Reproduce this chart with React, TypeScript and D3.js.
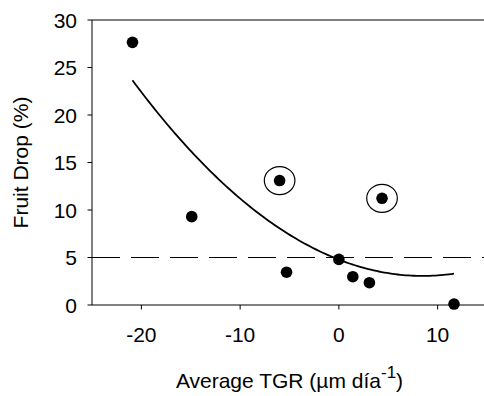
import React from "react";
import * as d3 from "d3";

// Data
const xValues = [-20.9, -14.9, -6.0, -5.3, 0, 1.41, 3.09, 4.37, 11.66];
const yValues = [27.65, 9.3, 13.1, 3.45, 4.8, 2.98, 2.35, 11.23, 0.1];
const circled = [false, false, true, false, false, false, false, true, false];
const xTicks = [-20, -10, 0, 10];
const yTicks = [0, 5, 10, 15, 20, 25, 30];
const xDomain = [-25, 15];
const yDomain = [0, 30];
const thresholdValue = 5;

// least-squares quadratic fit
function quadFit(xs: number[], ys: number[]) {
  const n = xs.length;
  let s1 = 0, s2 = 0, s3 = 0, s4 = 0, t0 = 0, t1 = 0, t2 = 0;
  for (let i = 0; i < n; i++) {
    const x = xs[i], y = ys[i];
    s1 += x; s2 += x * x; s3 += x * x * x; s4 += x * x * x * x;
    t0 += y; t1 += x * y; t2 += x * x * y;
  }
  const M = [
    [n, s1, s2, t0],
    [s1, s2, s3, t1],
    [s2, s3, s4, t2],
  ];
  for (let i = 0; i < 3; i++) {
    for (let j = i + 1; j < 3; j++) {
      const f = M[j][i] / M[i][i];
      for (let k = i; k < 4; k++) M[j][k] -= f * M[i][k];
    }
  }
  const sol = [0, 0, 0];
  for (let i = 2; i >= 0; i--) {
    let s = M[i][3];
    for (let k = i + 1; k < 3; k++) s -= M[i][k] * sol[k];
    sol[i] = s / M[i][i];
  }
  return (x: number) => sol[0] + sol[1] * x + sol[2] * x * x;
}

export default function App() {
  const W = 484, H = 396;
  const left = 92, right = 487, top = 20, bottom = 305;
  const x = d3.scaleLinear().domain(xDomain).range([left, right]);
  const y = d3.scaleLinear().domain(yDomain).range([bottom, top]);
  const font = "'Liberation Sans', Arial, sans-serif";
  const fit = quadFit(xValues, yValues);
  const [xmin, xmax] = d3.extent(xValues) as [number, number];
  const samples = d3.range(0, 121).map((i) => xmin + ((xmax - xmin) * i) / 120);
  const line = d3
    .line<number>()
    .x((d) => x(d))
    .y((d) => y(fit(d)))
    .curve(d3.curveLinear);

  return (
    <svg
      width={W}
      height={H}
      style={{ position: "absolute", left: 0, top: 0, background: "#fff" }}
      fontFamily={font}
    >
      <rect x={0} y={0} width={W} height={H} fill="#fff" />
      {/* frame */}
      <line x1={left} x2={right} y1={top} y2={top} stroke="#000" strokeWidth={1} />
      <line x1={left} x2={right} y1={bottom} y2={bottom} stroke="#000" strokeWidth={1} />
      <line x1={left} x2={left} y1={top} y2={bottom} stroke="#000" strokeWidth={1} />
      <line x1={right} x2={right} y1={top} y2={bottom} stroke="#000" strokeWidth={1} />
      {/* y ticks */}
      {yTicks.map((t) => (
        <g key={"y" + t}>
          <line x1={left - 4.5} x2={left} y1={y(t)} y2={y(t)} stroke="#000" strokeWidth={1} />
          <text x={77} y={y(t)} dy="0.36em" textAnchor="end" fontSize={21} fill="#000">
            {t}
          </text>
        </g>
      ))}
      {/* x ticks */}
      {xTicks.map((t) => (
        <g key={"x" + t}>
          <line x1={x(t)} x2={x(t)} y1={bottom} y2={bottom + 4.5} stroke="#000" strokeWidth={1} />
          <text x={x(t)} y={342} textAnchor="middle" fontSize={21} fill="#000">
            {t}
          </text>
        </g>
      ))}
      {/* threshold dashed line */}
      <line
        x1={left}
        x2={right}
        y1={y(thresholdValue)}
        y2={y(thresholdValue)}
        stroke="#000"
        strokeWidth={1}
        strokeDasharray="28 11"
      />
      {/* fitted curve */}
      <path d={line(samples) || ""} fill="none" stroke="#000" strokeWidth={1.8} />
      {/* points */}
      {xValues.map((xv, i) => (
        <g key={"p" + i}>
          <circle cx={x(xv)} cy={y(yValues[i])} r={5.8} fill="#000" />
          {circled[i] && (
            <ellipse
              cx={x(xv)}
              cy={y(yValues[i])}
              rx={15.3}
              ry={14}
              fill="none"
              stroke="#000"
              strokeWidth={1.2}
            />
          )}
        </g>
      ))}
      {/* axis titles */}
      <text
        transform={`translate(28,${(top + bottom) / 2}) rotate(-90)`}
        textAnchor="middle"
        fontSize={21}
        fill="#000"
      >
        Fruit Drop (%)
      </text>
      <text x={(left + right) / 2} y={388} textAnchor="middle" fontSize={21} fill="#000">
        Average TGR (µm día
        <tspan fontSize={17} dy={-10}>-1</tspan>
        <tspan dy={10}>)</tspan>
      </text>
    </svg>
  );
}
